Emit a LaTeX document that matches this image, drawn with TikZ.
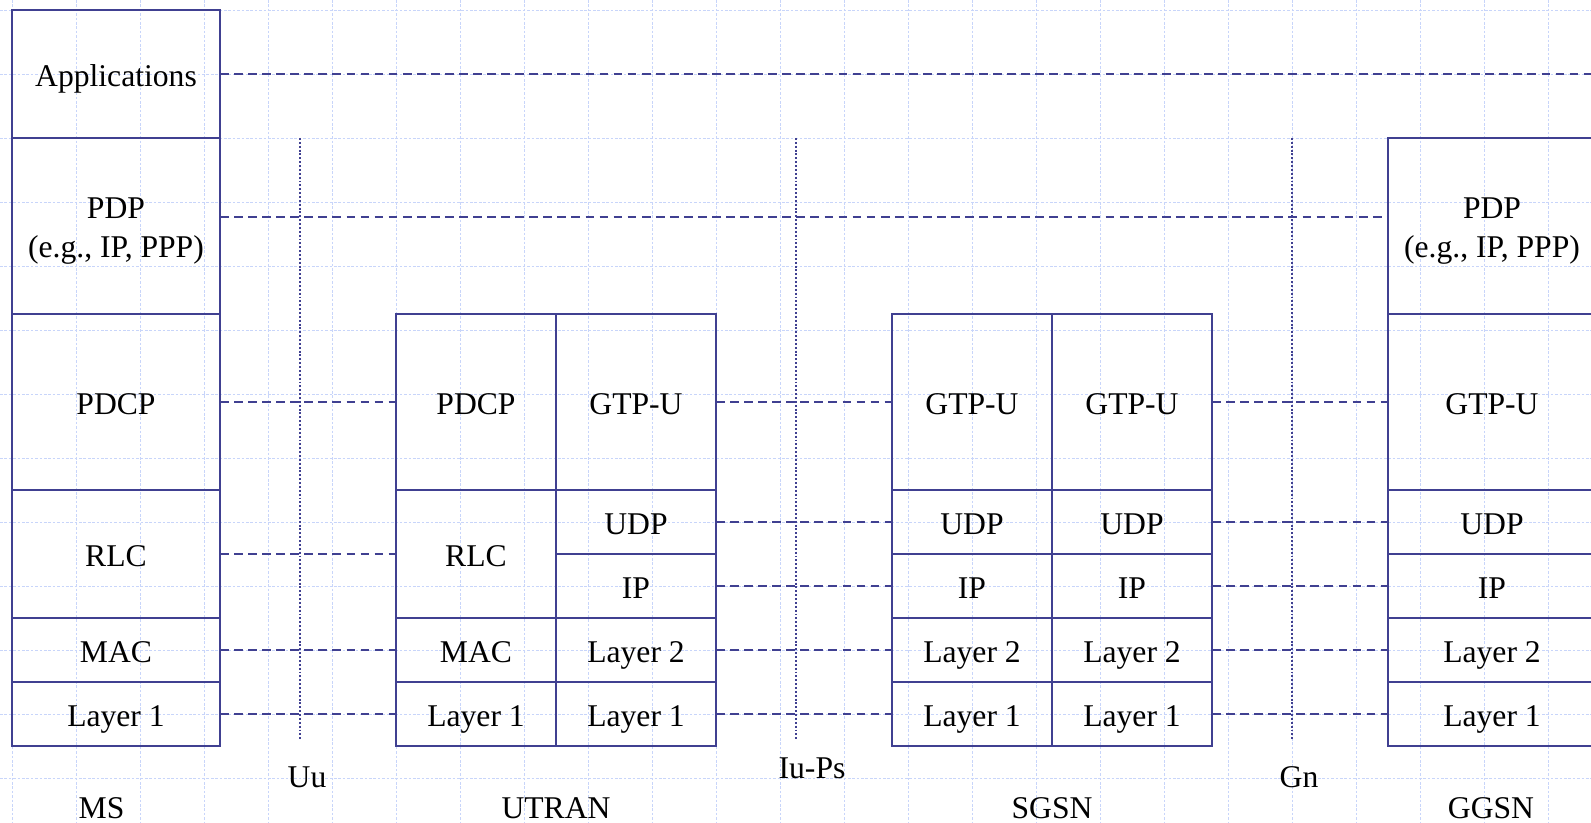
\documentclass[tikz,border=0pt]{standalone}
\usepackage{fontspec}
\setmainfont{Liberation Serif}
\usetikzlibrary{positioning}

\definecolor{stackblue}{RGB}{64,64,145}
\definecolor{gridblue}{RGB}{200,213,250}

\tikzset{
  layer/.style={draw=stackblue, line width=1.2pt, minimum width=3.2cm, minimum height=1.28cm,
    inner sep=0pt, outer sep=0pt, align=center, text height=16pt, text depth=1.8pt},
  wide/.style={minimum width=4.16cm},
  tall/.style={minimum height=3.52cm},
  double/.style={minimum height=2.56cm},
  twoline/.style={text height=37pt, text depth=1.6pt},
  peer/.style={draw=stackblue, line width=1.1pt, dash pattern=on 5pt off 3pt},
  iface/.style={draw=stackblue, line width=1.1pt, dash pattern=on 1.1pt off 1.1pt},
  gridline/.style={draw=gridblue, line width=0.5pt, dash pattern=on 1.5pt off 1pt},
  entity/.style={anchor=base}
}

\begin{document}
\begin{tikzpicture}[font=\fontsize{18}{22}\selectfont, node distance=0pt]
\useasboundingbox (0,0) rectangle (31.82,-16.46);

% background grid
\foreach \i in {0,...,24} \draw[gridline] (0.24+1.28*\i,0) -- ++(0,-16.46);
\foreach \j in {0,...,12} \draw[gridline] (0,-0.2-1.28*\j) -- ++(31.82,0);

% MS
\node[layer,wide,double] (msapp) at (2.32,-1.48) {Applications};
\node[layer,wide,tall,twoline,below=of msapp] (mspdp) {PDP\\(e.g., IP, PPP)};
\node[layer,wide,tall,below=of mspdp] (mspdcp) {PDCP};
\node[layer,wide,double,below=of mspdcp] (msrlc) {RLC};
\node[layer,wide,below=of msrlc] (msmac) {MAC};
\node[layer,wide,below=of msmac] (msl1) {Layer 1};

% UTRAN
\node[layer,tall,right=3.52cm of mspdcp] (utpdcp) {PDCP};
\node[layer,double,below=of utpdcp] (utrlc) {RLC};
\node[layer,below=of utrlc] (utmac) {MAC};
\node[layer,below=of utmac] (utl1a) {Layer 1};
\node[layer,tall,right=of utpdcp] (utgtp) {GTP-U};
\node[layer,below=of utgtp] (utudp) {UDP};
\node[layer,below=of utudp] (utip) {IP};
\node[layer,below=of utip] (utl2) {Layer 2};
\node[layer,below=of utl2] (utl1b) {Layer 1};

% SGSN
\node[layer,tall,right=3.52cm of utgtp] (sgagtp) {GTP-U};
\node[layer,below=of sgagtp] (sgaudp) {UDP};
\node[layer,below=of sgaudp] (sgaip) {IP};
\node[layer,below=of sgaip] (sgal2) {Layer 2};
\node[layer,below=of sgal2] (sgal1) {Layer 1};
\node[layer,tall,right=of sgagtp] (sgbgtp) {GTP-U};
\node[layer,below=of sgbgtp] (sgbudp) {UDP};
\node[layer,below=of sgbudp] (sgbip) {IP};
\node[layer,below=of sgbip] (sgbl2) {Layer 2};
\node[layer,below=of sgbl2] (sgbl1) {Layer 1};

% GGSN
\node[layer,wide,tall,right=3.52cm of sgbgtp] (gggtp) {GTP-U};
\node[layer,wide,tall,twoline,above=of gggtp] (ggpdp) {PDP\\(e.g., IP, PPP)};
\node[layer,wide,below=of gggtp] (ggudp) {UDP};
\node[layer,wide,below=of ggudp] (ggip) {IP};
\node[layer,wide,below=of ggip] (ggl2) {Layer 2};
\node[layer,wide,below=of ggl2] (ggl1) {Layer 1};

% peer links
\coordinate (rim) at (31.82,0);
\draw[peer] (msapp.east) -- (msapp.east -| rim);
\draw[peer] ([yshift=0.18cm]mspdp.east) -- ([yshift=0.18cm]ggpdp.west);
\draw[peer] (mspdcp.east) -- (utpdcp.west);
\draw[peer] (msrlc.east) -- (utrlc.west);
\draw[peer] (msmac.east) -- (utmac.west);
\draw[peer] (msl1.east) -- (utl1a.west);
\draw[peer] (utgtp.east) -- (sgagtp.west);
\draw[peer] (utudp.east) -- (sgaudp.west);
\draw[peer] (utip.east) -- (sgaip.west);
\draw[peer] (utl2.east) -- (sgal2.west);
\draw[peer] (utl1b.east) -- (sgal1.west);
\draw[peer] (sgbgtp.east) -- (gggtp.west);
\draw[peer] (sgbudp.east) -- (ggudp.west);
\draw[peer] (sgbip.east) -- (ggip.west);
\draw[peer] (sgbl2.east) -- (ggl2.west);
\draw[peer] (sgbl1.east) -- (ggl1.west);

% interfaces
\coordinate (uu) at (6.0,0);
\coordinate (iups) at (15.92,0);
\coordinate (gn) at (25.84,0);
\draw[iface] (uu |- mspdp.north) -- ([yshift=1mm]uu |- msl1.south);
\draw[iface] (iups |- mspdp.north) -- ([yshift=1mm]iups |- msl1.south);
\draw[iface] (gn |- mspdp.north) -- ([yshift=1mm]gn |- msl1.south);
\node[entity] (uulbl) at (6.14,-15.74) {Uu};
\node[entity] (iupslbl) at (16.24,-15.56) {Iu-Ps};
\node[entity] (gnlbl) at (25.98,-15.74) {Gn};

% entities
\node[entity] (ms) at (2.03,-16.36) {MS};
\node[entity] (utran) at (11.12,-16.36) {UTRAN};
\node[entity] (sgsn) at (21.04,-16.36) {SGSN};
\node[entity] (ggsn) at (29.82,-16.36) {GGSN};
\end{tikzpicture}
\end{document}
